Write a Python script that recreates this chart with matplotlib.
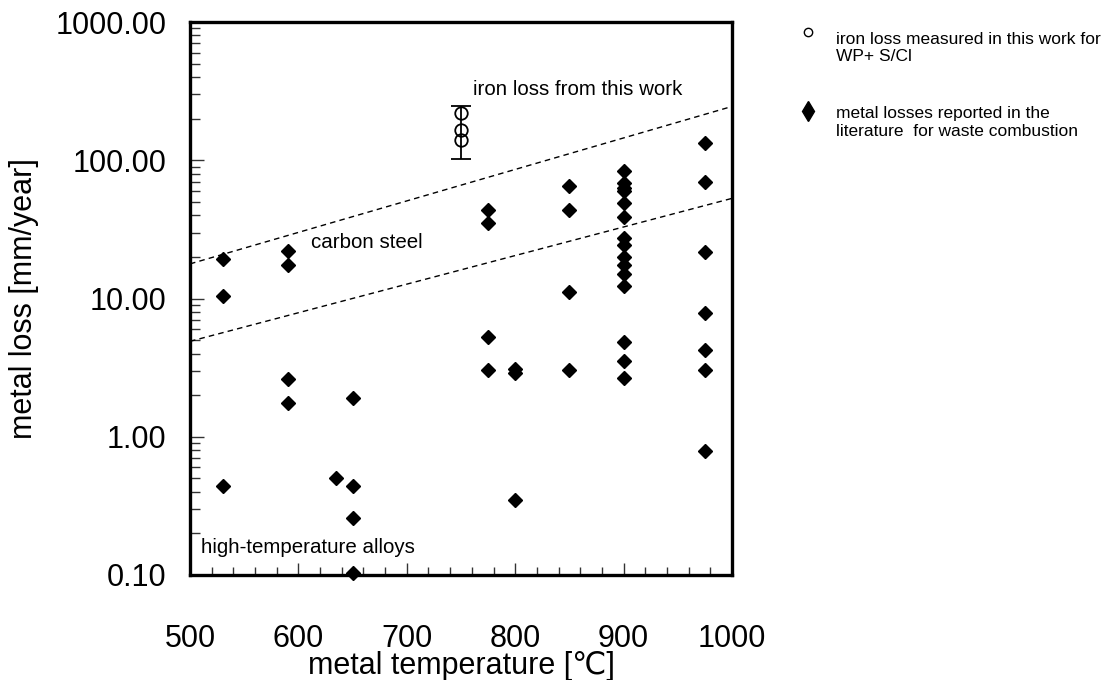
import matplotlib
matplotlib.use("Agg")
import matplotlib.pyplot as plt
from matplotlib.lines import Line2D
from matplotlib.ticker import FixedLocator, MultipleLocator, FormatStrFormatter, LogLocator, NullFormatter

plt.rcParams['font.family'] = ['Liberation Sans', 'DejaVu Sans']

# literature data: metal temperature [°C] and metal loss [mm/year]
lit_temp = [530, 530, 530,
            590, 590, 590, 590,
            635,
            650, 650, 650, 650,
            775, 775, 775, 775,
            800, 800, 800,
            850, 850, 850, 850,
            900, 900, 900, 900, 900, 900, 900, 900, 900, 900, 900, 900, 900, 900, 900,
            975, 975, 975, 975, 975, 975, 975]
lit_loss = [19.3, 10.5, 0.44,
            22.2, 17.5, 2.62, 1.74,
            0.50,
            1.92, 0.44, 0.26, 0.103,
            43.8, 35.2, 5.25, 3.05,
            3.09, 2.87, 0.35,
            65.4, 43.8, 11.2, 3.05,
            83, 68, 63, 59.5, 49, 39, 27.4, 24.5, 20.1, 17.5, 15.1, 12.4, 4.84, 3.56, 2.66,
            133, 70, 21.7, 7.85, 4.21, 3.05, 0.79]

# iron loss from this work
work_temp = [750, 750, 750]
work_loss = [219, 166, 141]
work_err_center = [166]
work_err_low = [102]
work_err_high = [248]

# boundary lines (carbon steel band)
band_temp = [500, 1000]
band_upper = [17.8, 245]
band_lower = [4.9, 53]

fig = plt.figure(figsize=(11.17, 6.80), dpi=100)
ax = fig.add_axes([190 / 1117, 1 - 575 / 680, (732 - 190) / 1117, (575 - 22) / 680])

ax.plot(band_temp, band_upper, color='black', lw=1.0, ls=(0, (4, 3)))
ax.plot(band_temp, band_lower, color='black', lw=1.0, ls=(0, (4, 3)))

ax.errorbar([work_temp[0]], work_err_center,
            yerr=[[c - l for c, l in zip(work_err_center, work_err_low)],
                  [h - c for c, h in zip(work_err_center, work_err_high)]],
            fmt='none', ecolor='black', elinewidth=1.3, capsize=7, capthick=1.3, zorder=3)
ax.plot(work_temp, work_loss, ls='none', marker='o', ms=9, mfc='none', mec='black', mew=1.3, zorder=4)

ax.plot(lit_temp, lit_loss, ls='none', marker='D', ms=7.2, color='black', zorder=5, clip_on=False)

ax.set_yscale('log')
ax.set_xlim(500, 1000)
ax.set_ylim(0.1, 1000)

ax.xaxis.set_major_locator(MultipleLocator(100))
ax.xaxis.set_minor_locator(MultipleLocator(20))
ax.yaxis.set_major_locator(FixedLocator([0.1, 1, 10, 100, 1000]))
ax.yaxis.set_major_formatter(FormatStrFormatter('%.2f'))
ax.yaxis.set_minor_locator(LogLocator(base=10, subs=range(2, 10)))
ax.yaxis.set_minor_formatter(NullFormatter())

ax.tick_params(which='both', direction='in', top=False, right=False, color='#333333', width=1.0)
ax.tick_params(axis='x', which='major', length=9, labelsize=22, pad=35)
ax.tick_params(axis='x', which='minor', length=6)
ax.tick_params(axis='y', which='major', length=10, labelsize=22, pad=17)
ax.tick_params(axis='y', which='minor', length=7)

for sp in ax.spines.values():
    sp.set_linewidth(2.4)
    sp.set_color('black')

ax.set_xlabel('metal temperature [℃]', fontsize=22, labelpad=-2)
ax.set_ylabel('metal loss [mm/year]', fontsize=22, labelpad=12)

ax.text(761, 324, 'iron loss from this work', fontsize=14.8, va='center', ha='left')
ax.text(611.6, 25.4, 'carbon steel', fontsize=14.8, va='center', ha='left')
ax.text(510, 0.157, 'high-temperature alloys', fontsize=14.8, va='center', ha='left')

handles = [Line2D([], [], ls='none', marker='o', ms=6, mfc='none', mec='black', mew=1.0),
           Line2D([], [], ls='none', marker='d', ms=10, color='black')]
labels = ['iron loss measured in this work for\nWP+ S/Cl',
          'metal losses reported in the\nliterature  for waste combustion']
leg = fig.legend(handles, labels, loc='upper left', bbox_to_anchor=(799 / 1117, 1 - 32 / 680),
                 frameon=False, fontsize=12.5, handlelength=1.0, handletextpad=1.15,
                 labelspacing=2.43, borderpad=0, borderaxespad=0)
for t in leg.get_texts():
    t.set_linespacing(1.18)
# align legend symbols with the first line of each label
for h, dy in zip(leg.legend_handles, [11.5, 7.9]):
    h.set_ydata([y + dy for y in h.get_ydata()])

fig.savefig('out.png', dpi=100)
